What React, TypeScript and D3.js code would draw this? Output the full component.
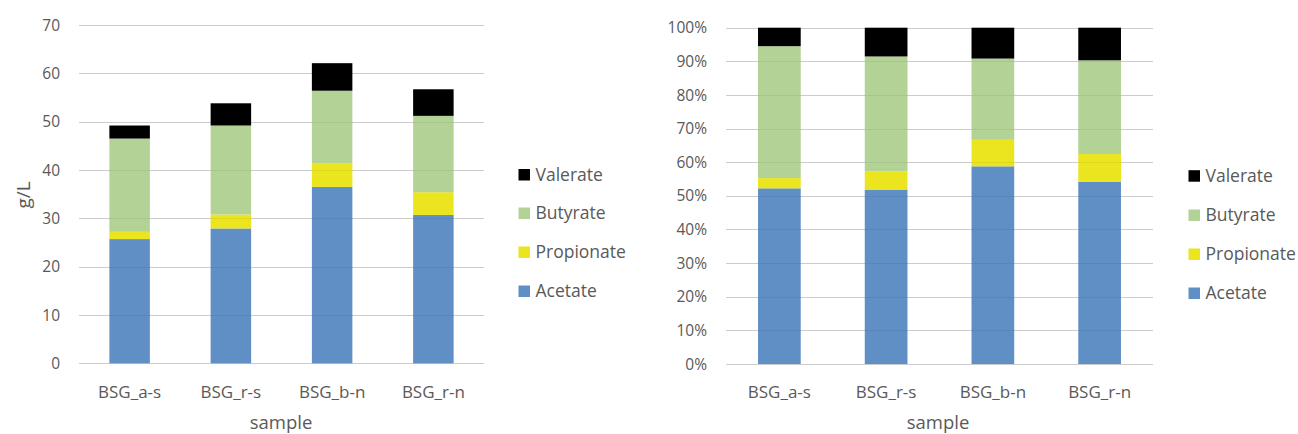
import React from "react";
import * as d3 from "d3";

const categories = ["BSG_a-s", "BSG_r-s", "BSG_b-n", "BSG_r-n"];
const seriesNames = ["Acetate", "Propionate", "Butyrate", "Valerate"];
const acetate = [25.7, 27.9, 36.5, 30.7];
const propionate = [1.5, 2.9, 4.9, 4.7];
const butyrate = [19.3, 18.4, 15.0, 15.8];
const valerate = [2.7, 4.6, 5.7, 5.5];
const colors = ["#5f8fc5", "#ebe51f", "#b2d296", "#000000"];
const leftTicks = [0, 10, 20, 30, 40, 50, 60, 70];
const rightTicks = [0, 0.1, 0.2, 0.3, 0.4, 0.5, 0.6, 0.7, 0.8, 0.9, 1.0];

const FONT = "'Open Sans', sans-serif";
const TEXT = "#595959";

const rows = categories.map((c, i) => ({
  cat: c,
  Acetate: acetate[i],
  Propionate: propionate[i],
  Butyrate: butyrate[i],
  Valerate: valerate[i],
}));

type PanelProps = {
  x0: number;
  x1: number;
  yBottom: number;
  yTop: number;
  domainMax: number;
  ticks: number[];
  tickFmt: (v: number) => string;
  tickX: number;
  expand: boolean;
  legendX: number;
  legendY: number[];
  sampleX: number;
  clipLeft?: number;
  id: string;
};

function Panel(p: PanelProps) {
  const x = d3
    .scaleBand<string>()
    .domain(categories)
    .range([p.x0, p.x1])
    .paddingInner(0.6)
    .paddingOuter(0.3);
  const y = d3.scaleLinear().domain([0, p.domainMax]).range([p.yBottom, p.yTop]);
  const stack = d3.stack<any>().keys(seriesNames);
  if (p.expand) stack.offset(d3.stackOffsetExpand);
  const stacked = stack(rows);
  const legendOrder = [3, 2, 1, 0];
  return (
    <g clipPath={p.clipLeft !== undefined ? `url(#clip-${p.id})` : undefined}>
      {p.clipLeft !== undefined && (
        <defs>
          <clipPath id={`clip-${p.id}`}>
            <rect x={p.clipLeft} y={0} width={1298} height={434} />
          </clipPath>
        </defs>
      )}
      {p.ticks.map((t) => (
        <line
          key={"g" + t}
          x1={p.x0}
          x2={p.x1}
          y1={Math.round(y(t)) + 0.5}
          y2={Math.round(y(t)) + 0.5}
          stroke="#d9d9d9"
          strokeWidth={1}
        />
      ))}
      {stacked.map((s, si) =>
        s.map((d, i) => (
          <rect
            key={si + "-" + i}
            x={x(categories[i])}
            width={x.bandwidth()}
            y={y(d[1])}
            height={y(d[0]) - y(d[1])}
            fill={colors[si]}
          />
        ))
      )}
      {p.ticks.map((t) => (
        <line
          key={"o" + t}
          x1={p.x0}
          x2={p.x1}
          y1={Math.round(y(t)) + 0.5}
          y2={Math.round(y(t)) + 0.5}
          stroke="#000"
          strokeOpacity={0.06}
          strokeWidth={1}
        />
      ))}
      {p.ticks.map((t) => (
        <text
          key={"t" + t}
          x={p.tickX}
          y={y(t)}
          dy="0.36em"
          textAnchor="end"
          fontFamily={FONT}
          fontSize={15.5}
          fill={TEXT}
        >
          {p.tickFmt(t)}
        </text>
      ))}
      {categories.map((c) => (
        <text
          key={c}
          x={(x(c) as number) + x.bandwidth() / 2}
          y={397.5}
          textAnchor="middle"
          fontFamily={FONT}
          fontSize={17}
          fill={TEXT}
        >
          {c}
        </text>
      ))}
      <text
        x={p.sampleX}
        y={428.5}
        textAnchor="middle"
        fontFamily={FONT}
        fontSize={18.5}
        fill={TEXT}
      >
        sample
      </text>
      {legendOrder.map((si, k) => (
        <g key={"l" + si}>
          <rect
            x={p.legendX}
            y={p.legendY[k] - 5.5}
            width={11.5}
            height={11.5}
            fill={colors[si]}
          />
          <text
            x={p.legendX + 17}
            y={p.legendY[k]}
            dy="0.36em"
            fontFamily={FONT}
            fontSize={17.5}
            fill={TEXT}
          >
            {seriesNames[si]}
          </text>
        </g>
      ))}
    </g>
  );
}

export default function App() {
  return (
    <svg
      width={1298}
      height={434}
      style={{ position: "absolute", left: 0, top: 0, background: "#fff" }}
    >
      <rect x={0} y={0} width={1298} height={434} fill="#fff" />
      <Panel
        id="left"
        x0={79}
        x1={484}
        yBottom={363.3}
        yTop={25}
        domainMax={70}
        ticks={leftTicks}
        tickFmt={(v) => String(v)}
        tickX={60}
        expand={false}
        legendX={518.5}
        legendY={[174.5, 213, 252, 291]}
        sampleX={281}
      />
      <text
        transform="translate(30,195) rotate(-90)"
        textAnchor="middle"
        fontFamily={FONT}
        fontSize={19}
        fill={TEXT}
      >
        g/L
      </text>
      <Panel
        id="right"
        x0={726}
        x1={1153}
        yBottom={364}
        yTop={27.7}
        domainMax={1}
        ticks={rightTicks}
        tickFmt={(v) => d3.format(".0%")(v)}
        tickX={707}
        expand={true}
        legendX={1188.5}
        legendY={[175.7, 215, 254, 293]}
        sampleX={938}
        clipLeft={667}
      />
    </svg>
  );
}
